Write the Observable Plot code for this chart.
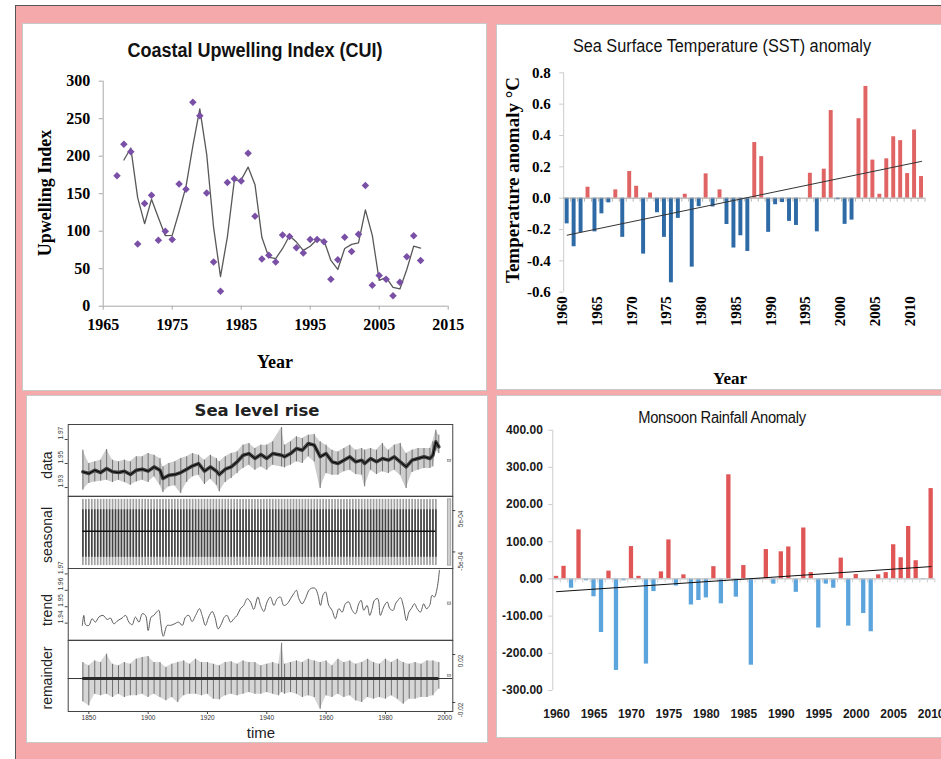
<!DOCTYPE html>
<html><head><meta charset="utf-8">
<script src="https://cdn.jsdelivr.net/npm/d3@7"></script>
<script src="https://cdn.jsdelivr.net/npm/@observablehq/plot@0.6"></script>
<style>
html,body{margin:0;padding:0;}
body{width:941px;height:759px;overflow:hidden;position:relative;background:#fff;}
#frame{position:absolute;left:15px;top:5px;width:940px;height:760px;background:#f5a9ab;border-left:1.5px solid #555;border-top:1.5px solid #555;}
.panel{position:absolute;background:#fff;outline:1px solid #c9c9c9;overflow:hidden;}
.panel svg{position:absolute;left:0;top:0;overflow:visible;}
.t{position:absolute;white-space:nowrap;line-height:1;}
</style></head>
<body>
<div id="frame"></div>
<div class="panel" id="p1" style="left:23px;top:24px;width:463px;height:366px;"></div>
<div class="panel" id="p2" style="left:497px;top:25px;width:460px;height:364px;"></div>
<div class="panel" id="p3" style="left:27px;top:396px;width:460px;height:346px;"></div>
<div class="panel" id="p4" style="left:497px;top:396px;width:460px;height:341px;"></div>
<script>
// ---------------- DATA ----------------
// Coastal Upwelling Index
const cuiYears = [1967,1968,1969,1970,1971,1972,1973,1974,1975,1976,1977,1978,1979,1980,1981,1982,1983,1984,1985,1986,1987,1988,1989,1990,1991,1992,1993,1994,1995,1996,1997,1998,1999,2000,2001,2002,2003,2004,2005,2006,2007,2008,2009,2010,2011];
const cuiValues = [174,216,206,83,137,148,88,100,89,163,156,272,254,151,59,20,165,170,167,204,120,63,68,59,95,93,78,71,89,89,86,36,62,92,73,96,161,28,41,36,14,32,66,94,61];
const cuiXTicks = [1965,1975,1985,1995,2005,2015];
const cuiYTicks = [0,50,100,150,200,250,300];

// Sea Surface Temperature anomaly
const sstYears = [1960,1961,1962,1963,1964,1965,1966,1967,1968,1969,1970,1971,1972,1973,1974,1975,1976,1977,1978,1979,1980,1981,1982,1983,1984,1985,1986,1987,1988,1989,1990,1991,1992,1993,1994,1995,1996,1997,1998,1999,2000,2001,2002,2003,2004,2005,2006,2007,2008,2009,2010,2011];
const sstValues = [-0.164,-0.31,-0.22,0.07,-0.215,-0.10,-0.03,0.053,-0.25,0.17,0.076,-0.357,0.033,-0.093,-0.25,-0.54,-0.129,0.025,-0.44,-0.054,0.155,-0.056,0.053,-0.168,-0.318,-0.24,-0.34,0.355,0.265,-0.218,-0.042,-0.028,-0.148,-0.174,0,0.159,-0.215,0.185,0.559,-0.01,-0.167,-0.14,0.507,0.713,0.243,0.025,0.251,0.392,0.367,0.157,0.435,0.138];
const sstXTicks = [1960,1965,1970,1975,1980,1985,1990,1995,2000,2005,2010];
const sstYTicks = [-0.6,-0.4,-0.2,0,0.2,0.4,0.6,0.8];

// Monsoon rainfall anomaly
const monYears = [1960,1961,1962,1963,1964,1965,1966,1967,1968,1969,1970,1971,1972,1973,1974,1975,1976,1977,1978,1979,1980,1981,1982,1983,1984,1985,1986,1987,1988,1989,1990,1991,1992,1993,1994,1995,1996,1997,1998,1999,2000,2001,2002,2003,2004,2005,2006,2007,2008,2009,2010];
const monValues = [7,34,-25,132,-5,-48,-144,21,-246,-5,87,7,-229,-34,19,105,-19,11,-70,-58,-51,33,-67,280,-49,36,-232,-2,79,-14,73,86,-36,137,17,-132,-14,-25,56,-127,12,-93,-142,11,17,92,57,141,49,-2,243];
const monXTicks = [1960,1965,1970,1975,1980,1985,1990,1995,2000,2005,2010];
const monYTicks = [-300,-200,-100,0,100,200,300,400];

// Sea level rise (STL decomposition)
const seaTicks = [1880,1900,1920,1940,1960,1980,2000];
const seaTickLabels = ["1850","1900","1920","1940","1960","1980","2000"];
const seaDataYears = [1878,1880,1882,1884,1886,1888,1890,1892,1894,1896,
  1898,1900,1902,1904,1905,1907,1909,1911,1913,1915,
  1917,1919,1921,1923,1924,1926,1928,1930,1932,1934,
  1936,1938,1940,1942,1945,1946,1948,1950,1952,1954,
  1956,1958,1960,1962,1964,1966,1968,1970,1972,1973,
  1975,1977,1979,1981,1983,1985,1987,1989,1991,1993,
  1995,1996,1997,1998];
const seaDataMid = [1.9431,1.9417,1.9444,1.9425,1.9458,1.9431,1.9425,1.9436,1.9408,1.9444,
  1.9453,1.9436,1.9472,1.9444,1.9375,1.9403,1.9408,1.9425,1.9453,1.9481,
  1.9500,1.9436,1.9472,1.9436,1.9408,1.9453,1.9472,1.9514,1.9569,1.9583,
  1.9542,1.9575,1.9542,1.9583,1.9569,1.9556,1.9583,1.9625,1.9611,1.9667,
  1.9653,1.9556,1.9583,1.9514,1.9500,1.9528,1.9556,1.9514,1.9528,1.9500,
  1.9542,1.9514,1.9542,1.9528,1.9556,1.9514,1.9472,1.9528,1.9542,1.9556,
  1.9542,1.9569,1.9681,1.9639];
const seaDataHi = [1.9611,1.9500,1.9514,1.9528,1.9617,1.9528,1.9514,1.9528,1.9514,1.9556,
  1.9556,1.9583,1.9569,1.9542,1.9472,1.9500,1.9514,1.9542,1.9556,1.9583,
  1.9569,1.9528,1.9569,1.9542,1.9514,1.9556,1.9583,1.9597,1.9653,1.9667,
  1.9625,1.9653,1.9653,1.9681,1.9800,1.9653,1.9681,1.9722,1.9708,1.9736,
  1.9742,1.9681,1.9653,1.9611,1.9597,1.9625,1.9653,1.9611,1.9625,1.9611,
  1.9625,1.9611,1.9667,1.9611,1.9653,1.9667,1.9583,1.9611,1.9625,1.9625,
  1.9625,1.9681,1.9778,1.9736];
const seaDataLo = [1.9278,1.9333,1.9347,1.9353,1.9361,1.9342,1.9361,1.9342,1.9319,1.9347,
  1.9361,1.9342,1.9389,1.9319,1.9258,1.9306,1.9314,1.9250,1.9342,1.9389,
  1.9403,1.9325,1.9369,1.9319,1.9264,1.9342,1.9375,1.9417,1.9458,1.9486,
  1.9444,1.9472,1.9444,1.9486,1.9472,1.9464,1.9486,1.9514,1.9500,1.9556,
  1.9514,1.9292,1.9417,1.9403,1.9403,1.9431,1.9444,1.9408,1.9403,1.9306,
  1.9444,1.9408,1.9431,1.9417,1.9444,1.9403,1.9292,1.9425,1.9444,1.9458,
  1.9458,1.9472,1.9611,1.9583];
const seasonalOuter = [-0.00083, 0.00077];
const seasonalInner = [-0.00063, 0.00052];
const seasonalYears = d3.range(1878, 1998);
const trendYears = [1877.8,1878.3,1878.9,1880.0,1881.1,1882.2,1883.4,1884.8,1886.2,1887.3,
  1888.4,1889.8,1891.2,1892.4,1893.5,1894.6,1895.7,1896.9,1898.0,1899.1,
  1900.0,1901.0,1901.9,1902.8,1903.6,1904.2,1905.1,1906.4,1907.5,1908.7,
  1910.3,1911.5,1912.6,1913.7,1914.8,1916.0,1917.3,1918.2,1919.3,1920.4,
  1921.6,1922.5,1923.6,1924.7,1925.7,1926.6,1927.8,1928.9,1930.0,1931.1,
  1932.2,1933.4,1934.5,1935.6,1937.0,1937.9,1939.0,1940.1,1941.2,1942.4,
  1943.5,1944.6,1945.7,1946.9,1948.0,1949.1,1950.0,1950.8,1951.9,1953.0,
  1954.2,1955.3,1956.4,1957.3,1958.1,1959.0,1959.8,1960.9,1962.0,1963.1,
  1964.3,1965.4,1966.5,1967.6,1968.8,1969.9,1971.0,1971.8,1972.7,1973.8,
  1974.7,1975.5,1976.3,1977.4,1978.3,1979.4,1980.6,1981.5,1982.6,1983.4,
  1984.2,1985.1,1986.0,1987.1,1987.9,1988.7,1989.8,1990.7,1991.8,1992.9,
  1993.8,1994.9,1995.7,1996.5,1997.4,1998.2];
const trendValues = [1.9386,1.9447,1.9390,1.9386,1.9427,1.9406,1.9437,1.9447,1.9422,1.9431,
  1.9396,1.9416,1.9431,1.9447,1.9406,1.9390,1.9437,1.9406,1.9457,1.9447,
  1.9355,1.9437,1.9447,1.9467,1.9478,1.9406,1.9320,1.9386,1.9386,1.9394,
  1.9406,1.9386,1.9437,1.9447,1.9410,1.9447,1.9488,1.9447,1.9386,1.9437,
  1.9471,1.9437,1.9365,1.9396,1.9437,1.9447,1.9406,1.9427,1.9447,1.9488,
  1.9508,1.9549,1.9529,1.9484,1.9559,1.9508,1.9471,1.9529,1.9559,1.9508,
  1.9549,1.9559,1.9508,1.9518,1.9549,1.9580,1.9600,1.9549,1.9518,1.9549,
  1.9600,1.9614,1.9610,1.9569,1.9508,1.9573,1.9590,1.9508,1.9478,1.9427,
  1.9488,1.9467,1.9518,1.9529,1.9478,1.9457,1.9518,1.9539,1.9478,1.9508,
  1.9447,1.9488,1.9539,1.9549,1.9447,1.9498,1.9529,1.9488,1.9478,1.9518,
  1.9539,1.9555,1.9508,1.9416,1.9467,1.9488,1.9518,1.9488,1.9467,1.9518,
  1.9488,1.9508,1.9569,1.9559,1.9610,1.9722];
const remYears = [1878,1880,1882,1884,1886,1888,1890,1892,1894,1896,
  1898,1900,1902,1904,1906,1908,1910,1912,1914,1916,
  1918,1920,1922,1924,1926,1928,1930,1932,1934,1936,
  1938,1940,1942,1944,1945,1946,1948,1950,1952,1954,
  1956,1958,1960,1962,1964,1966,1968,1970,1972,1974,
  1976,1978,1980,1982,1984,1986,1988,1990,1992,1994,
  1996,1998];
const remHi = [0.0133,0.0106,0.0147,0.0133,0.0203,0.0119,0.0106,0.0133,0.0119,0.0161,
  0.0175,0.0183,0.0133,0.0133,0.0092,0.0119,0.0133,0.0147,0.0119,0.0161,
  0.0133,0.0133,0.0119,0.0106,0.0133,0.0139,0.0119,0.0147,0.0133,0.0133,
  0.0106,0.0119,0.0133,0.0119,0.0294,0.0119,0.0133,0.0147,0.0133,0.0161,
  0.0147,0.0133,0.0147,0.0106,0.0161,0.0133,0.0147,0.0119,0.0133,0.0161,
  0.0133,0.0119,0.0161,0.0133,0.0161,0.0133,0.0119,0.0133,0.0119,0.0147,
  0.0147,0.0133];
const remLo = [-0.0194,-0.0228,-0.0131,-0.0144,-0.0131,-0.0158,-0.0131,-0.0158,-0.0144,-0.0144,
  -0.0131,-0.0158,-0.0131,-0.0158,-0.0186,-0.0158,-0.0200,-0.0144,-0.0131,-0.0131,
  -0.0144,-0.0131,-0.0172,-0.0178,-0.0144,-0.0131,-0.0144,-0.0131,-0.0117,-0.0131,
  -0.0131,-0.0117,-0.0131,-0.0144,-0.0117,-0.0131,-0.0117,-0.0131,-0.0158,-0.0144,
  -0.0158,-0.0256,-0.0144,-0.0158,-0.0131,-0.0158,-0.0144,-0.0186,-0.0200,-0.0158,
  -0.0172,-0.0158,-0.0172,-0.0144,-0.0172,-0.0214,-0.0172,-0.0172,-0.0158,-0.0158,
  -0.0144,-0.0089];
// scale range bars drawn at the right of each STL panel (centre values)
const rangeBarCentre = {data: 1.9522, seasonal: -0.00003, trend: 1.9518, remainder: 0.0022};
const rangeBarHalf = 0.0008;

// ---------------- STYLE ----------------
const serif = "'Liberation Serif','Times New Roman',serif";
const sans = "'Liberation Sans',Arial,sans-serif";
const sstRed = "#e06464", sstBlue = "#2e6aa5";
const monRed = "#e05656", monBlue = "#5ca4dc";
const baseStyle = {background: "transparent", overflow: "visible", color: "#000"};

function label(panel, text, x, y, css, rotate, sx) {
  const d = document.createElement("div");
  d.className = "t";
  d.textContent = text;
  d.style.left = x + "px"; d.style.top = y + "px";
  d.style.transform = "translate(-50%,-50%)" + (rotate ? " rotate(-90deg)" : "") + (sx ? ` scaleX(${sx})` : "");
  Object.assign(d.style, css);
  panel.appendChild(d);
}

// ---------------- PANEL 1: CUI ----------------
{
  const p = document.getElementById("p1");
  const cui = cuiYears.map((year, i) => ({year, value: cuiValues[i]}));
  const x0 = cuiXTicks[0];
  const tickFont = {fontFamily: serif, fontWeight: "bold", fontSize: 16};
  p.appendChild(Plot.plot({
    width: 463, height: 366,
    marginLeft: 79.7, marginRight: 38.3, marginTop: 56.7, marginBottom: 84.3,
    x: {domain: [cuiXTicks[0], cuiXTicks[cuiXTicks.length - 1]], axis: null},
    y: {domain: [cuiYTicks[0], cuiYTicks[cuiYTicks.length - 1]], axis: null},
    style: baseStyle,
    marks: [
      Plot.ruleX([x0], {stroke: "#a8a8a8"}),
      Plot.ruleY([0], {stroke: "#a8a8a8"}),
      Plot.ruleY(cuiYTicks, {x1: x0, x2: x0, insetLeft: -4, stroke: "#a8a8a8"}),
      Plot.ruleX(cuiXTicks, {y1: 0, y2: 0, insetBottom: -4, stroke: "#a8a8a8"}),
      Plot.text(cuiYTicks, {y: d => d, text: d => String(d), frameAnchor: "left", dx: -13, textAnchor: "end", ...tickFont}),
      Plot.text(cuiXTicks, {x: d => d, text: d => String(d), frameAnchor: "bottom", dy: 24, ...tickFont}),
      Plot.lineY(cui, Plot.windowY({k: 2, anchor: "end", strict: true}, {x: "year", y: "value", stroke: "#585858", strokeWidth: 1.3})),
      Plot.dot(cui, {x: "year", y: "value", symbol: "square", r: 3, rotate: 45, fill: "#7a4fa6"})
    ]
  }));
  label(p, "Coastal Upwelling Index (CUI)", 232, 26, {fontFamily: sans, fontWeight: "bold", fontSize: "20px", color: "#111"}, false, 0.9);
  label(p, "Upwelling Index", 22, 169, {fontFamily: serif, fontWeight: "bold", fontSize: "18px"}, true);
  label(p, "Year", 252, 338, {fontFamily: serif, fontWeight: "bold", fontSize: "18px"});
}

// ---------------- PANEL 2: SST ----------------
{
  const p = document.getElementById("p2");
  const sst = sstYears.map((year, i) => ({year, value: sstValues[i]}));
  const x0 = sstYears[0] - 0.5;
  const tickFont = {fontFamily: serif, fontWeight: "bold", fontSize: 15};
  p.appendChild(Plot.plot({
    width: 444, height: 364,
    marginLeft: 66.2, marginRight: 16.5, marginTop: 47.3, marginBottom: 97.3,
    x: {domain: [x0, sstYears[sstYears.length - 1] + 0.5], axis: null},
    y: {domain: [sstYTicks[0], sstYTicks[sstYTicks.length - 1]], axis: null},
    style: baseStyle,
    marks: [
      Plot.ruleX([x0], {stroke: "#cccccc"}),
      Plot.ruleY(sstYTicks, {x1: x0, x2: x0, insetLeft: -4, stroke: "#cccccc"}),
      Plot.rect(sst, {x1: d => d.year - 0.5, x2: d => d.year + 0.5, y1: 0, y2: "value",
        fill: d => d.value >= 0 ? sstRed : sstBlue, insetLeft: 1.5, insetRight: 1.5}),
      Plot.ruleY([0], {stroke: "#a0a0a0"}),
      Plot.ruleX(sst, {x: d => d.year + 0.5, y1: 0, y2: 0, insetBottom: -4, stroke: "#b4b4b4"}),
      Plot.linearRegressionY(sst, {x: "year", y: "value", stroke: "#333", strokeWidth: 1, ci: 0}),
      Plot.text(sstYTicks, {y: d => d, text: d => d.toFixed(1), frameAnchor: "left", dx: -13, textAnchor: "end", ...tickFont}),
      Plot.text(sstXTicks, {x: d => d, text: d => String(d), frameAnchor: "bottom", dy: 4, rotate: -90, textAnchor: "end", ...tickFont})
    ]
  }));
  label(p, "Sea Surface Temperature (SST) anomaly", 225, 22, {fontFamily: sans, fontSize: "17.5px", color: "#111"}, false, 0.93);
  label(p, "Temperature anomaly °C", 15, 155, {fontFamily: serif, fontWeight: "bold", fontSize: "19px"}, true);
  label(p, "Year", 233, 353, {fontFamily: serif, fontWeight: "bold", fontSize: "17px"});
}

// ---------------- PANEL 4: Monsoon ----------------
{
  const p = document.getElementById("p4");
  const mon = monYears.map((year, i) => ({year, value: monValues[i]}));
  const x0 = monYears[0] - 0.5;
  const tickFont = {fontFamily: sans, fontSize: 12, fontWeight: "bold", fill: "#1a1a1a"};
  p.appendChild(Plot.plot({
    width: 444, height: 341,
    marginLeft: 55.3, marginRight: 6.6, marginTop: 33.7, marginBottom: 47,
    x: {domain: [x0, monYears[monYears.length - 1] + 0.5], axis: null},
    y: {domain: [monYTicks[0], monYTicks[monYTicks.length - 1]], axis: null},
    style: baseStyle,
    marks: [
      Plot.ruleX([x0], {stroke: "#cccccc"}),
      Plot.ruleY(monYTicks, {x1: x0, x2: x0, insetLeft: -4, stroke: "#cccccc"}),
      Plot.rect(mon, {x1: d => d.year - 0.5, x2: d => d.year + 0.5, y1: 0, y2: "value",
        fill: d => d.value >= 0 ? monRed : monBlue, insetLeft: 1.6, insetRight: 1.6}),
      Plot.ruleY([0], {stroke: "#c4c4c4", strokeWidth: 1.2}),
      Plot.ruleX(mon, {x: d => d.year + 0.5, y1: 0, y2: 0, insetBottom: -4, stroke: "#d0d0d0"}),
      Plot.linearRegressionY(mon, {x: "year", y: "value", stroke: "#111", strokeWidth: 1, ci: 0}),
      Plot.text(monYTicks, {y: d => d, text: d => d.toFixed(2), frameAnchor: "left", dx: -10, textAnchor: "end", ...tickFont}),
      Plot.text(monXTicks, {x: d => d, text: d => String(d), frameAnchor: "bottom", dy: 27, ...tickFont})
    ]
  }));
  label(p, "Monsoon Rainfall Anomaly", 225, 22, {fontFamily: sans, fontSize: "16px", color: "#111", letterSpacing: "-0.3px"}, false, 0.92);
}

// ---------------- PANEL 3: Sea level rise (STL) ----------------
{
  const p = document.getElementById("p3");
  const xDomain = [1873.05, 2002.7];
  const xa = xDomain[0], xb = xDomain[1];
  const tickFont = {fontFamily: sans, fontSize: 6.5, fill: "#333"};
  function sub(top, height, yDomain, marks) {
    const svg = Plot.plot({
      width: 460, height,
      marginLeft: 40.7, marginRight: 34.7, marginTop: 0, marginBottom: 0,
      x: {domain: xDomain, axis: null},
      y: {domain: yDomain, axis: null},
      style: baseStyle,
      marks: [...marks, Plot.frame({stroke: "#444"})]
    });
    svg.style.top = top + "px";
    p.appendChild(svg);
  }
  function leftAxis(ticks, labels) {
    return [
      Plot.ruleY(ticks, {x1: xa, x2: xa, insetLeft: -3, stroke: "#444"}),
      Plot.text(ticks, {y: d => d, text: (d, i) => labels[i], frameAnchor: "left", dx: -7.5, rotate: -90, ...tickFont})
    ];
  }
  function rightAxis(ticks, labels) {
    return [
      Plot.ruleY(ticks, {x1: xb, x2: xb, insetRight: -3, stroke: "#444"}),
      Plot.text(ticks, {y: d => d, text: (d, i) => labels[i], frameAnchor: "right", dx: 8.5, rotate: -90, ...tickFont})
    ];
  }
  const rangeBar = c => Plot.rect([c], {x1: 2001.0, x2: 2002.2, y1: d => d - rangeBarHalf, y2: d => d + rangeBarHalf, fill: "#d0d0d0", stroke: "#888", strokeWidth: 0.6});

  const seaData = seaDataYears.map((year, i) => ({year, mid: seaDataMid[i], hi: seaDataHi[i], lo: seaDataLo[i]}));
  sub(28.3, 71.7, [1.9228, 1.9825], [
    Plot.areaY(seaData, {x: "year", y1: "lo", y2: "hi", fill: "#cdcdcd"}),
    Plot.ruleX(seaData, {x: "year", y1: "lo", y2: "hi", stroke: "#707070", strokeWidth: 1}),
    Plot.line(seaData, {x: "year", y: "mid", stroke: "#404040", strokeWidth: 3.5, strokeLinejoin: "round"}),
    Plot.line(seaData, {x: "year", y: "mid", stroke: "#000", strokeWidth: 1}),
    ...leftAxis([1.93, 1.95, 1.97], ["1.93", "1.95", "1.97"]),
    rangeBar(rangeBarCentre.data)
  ]);

  sub(100, 72, [-0.00090, 0.00084], [
    Plot.ruleX(seasonalYears, {x: d => d, y1: seasonalOuter[0], y2: seasonalOuter[1], stroke: "#a0a0a0", strokeWidth: 1.7}),
    Plot.ruleX(seasonalYears, {x: d => d, y1: seasonalInner[0], y2: seasonalInner[1], stroke: "#444", strokeWidth: 1.6}),
    Plot.ruleY([0], {x1: seasonalYears[0], x2: seasonalYears[seasonalYears.length - 1], stroke: "#111", strokeWidth: 1.5}),
    ...rightAxis([0.0005, -0.0005], ["5e-04", "-5e-04"]),
    rangeBar(rangeBarCentre.seasonal)
  ]);

  const trend = trendYears.map((year, i) => ({year, value: trendValues[i]}));
  sub(172, 71.7, [1.9296, 1.9733], [
    Plot.line(trend, {x: "year", y: "value", stroke: "#5a5a5a", strokeWidth: 1, curve: "catmull-rom"}),
    ...leftAxis([1.94, 1.95, 1.96, 1.97], ["1.94", "1.95", "1.96", "1.97"]),
    rangeBar(rangeBarCentre.trend)
  ]);

  const rem = remYears.map((year, i) => ({year, hi: remHi[i], lo: remLo[i]}));
  const remDomain = [-0.0275, 0.0317];
  sub(243.7, 71, remDomain, [
    Plot.areaY(rem, {x: "year", y1: "lo", y2: "hi", fill: "#d6d6d6"}),
    Plot.ruleX(rem, {x: "year", y1: "lo", y2: "hi", stroke: "#707070", strokeWidth: 1}),
    Plot.ruleY([0], {stroke: "#000", strokeWidth: 0.8}),
    Plot.ruleY([0], {x1: remYears[0], x2: remYears[remYears.length - 1], stroke: "#2a2a2a", strokeWidth: 3}),
    ...rightAxis([0.02, -0.02], ["0.02", "-0.02"]),
    rangeBar(rangeBarCentre.remainder),
    Plot.ruleX(seaTicks, {y1: remDomain[0], y2: remDomain[0], insetBottom: -3, stroke: "#444"}),
    Plot.text(seaTicks, {x: d => d, text: (d, i) => seaTickLabels[i], frameAnchor: "bottom", dy: 8.5, ...tickFont})
  ]);

  label(p, "Sea level rise", 230, 15, {fontFamily: "'DejaVu Sans',sans-serif", fontWeight: "bold", fontSize: "16.5px", color: "#222"});
  const yt = {fontFamily: sans, fontSize: "14px", color: "#222"};
  label(p, "data", 20, 69, yt, true);
  label(p, "seasonal", 20, 139, yt, true);
  label(p, "trend", 20, 214, yt, true);
  label(p, "remainder", 20, 282, yt, true);
  label(p, "time", 234, 336, {fontFamily: sans, fontSize: "15px", color: "#222"});
}
</script>
</body></html>
